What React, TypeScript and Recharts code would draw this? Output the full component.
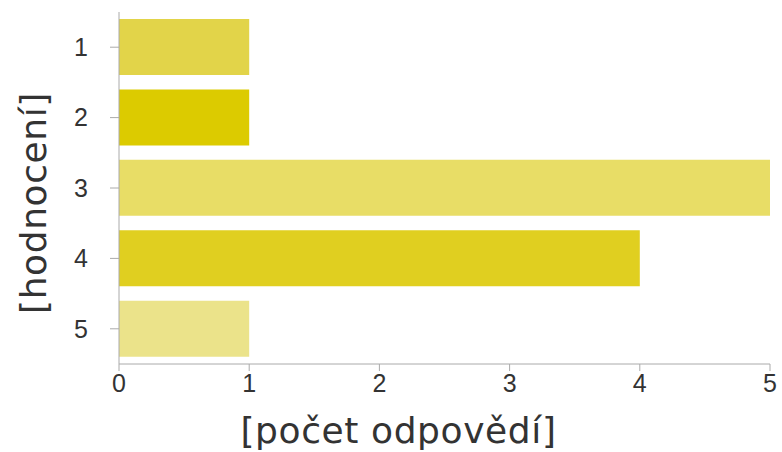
import React from 'react';
import { Bar, BarChart, Cell, XAxis, YAxis } from 'recharts';

const categories = ['1', '2', '3', '4', '5'];
const counts = [1, 1, 5, 4, 1];
const barColors = ['#e2d449', '#dccb00', '#e8dd66', '#e0cf20', '#ebe38a'];
const xTicks = [0, 1, 2, 3, 4, 5];

const data = categories.map((name, i) => ({ name, count: counts[i] }));

const tickFont = 'Liberation Sans, Arial, sans-serif';
const tickStyle = { fill: '#333', fontSize: 25, fontFamily: tickFont };
const labelStyle = { fill: '#333', fontSize: 36, letterSpacing: 0.6, fontFamily: 'DejaVu Sans, sans-serif' };

const App: React.FC = () => {
    return (
        <div style={{ position: 'fixed', left: 0, top: 0, width: 782, height: 452, background: '#fff' }}>
            <BarChart
                width={782}
                height={452}
                data={data}
                layout="vertical"
                barCategoryGap="10%"
                margin={{ top: 12, right: 12, bottom: 0, left: 0 }}
            >
                <XAxis
                    type="number"
                    domain={[0, 5]}
                    ticks={xTicks}
                    height={88}
                    stroke="#aaa"
                    fontSize={25}
                    fontFamily={tickFont}
                    tickSize={7}
                    tickMargin={3}
                    tick={tickStyle}
                    interval={0}
                    label={{
                        value: '[počet odpovědí]',
                        position: 'center',
                        dx: -46,
                        dy: 22,
                        style: labelStyle,
                    }}
                />
                <YAxis
                    type="category"
                    dataKey="name"
                    width={119}
                    stroke="#aaa"
                    fontSize={25}
                    fontFamily={tickFont}
                    tickSize={9}
                    tickMargin={22}
                    tick={tickStyle}
                    label={{
                        value: '[hodnocení]',
                        angle: -90,
                        position: 'center',
                        dx: -26,
                        dy: 15,
                        style: { ...labelStyle, textAnchor: 'middle' },
                    }}
                />
                <Bar dataKey="count" isAnimationActive={false}>
                    {data.map((d, i) => (
                        <Cell key={d.name} fill={barColors[i]} />
                    ))}
                </Bar>
            </BarChart>
        </div>
    );
};

export default App;
